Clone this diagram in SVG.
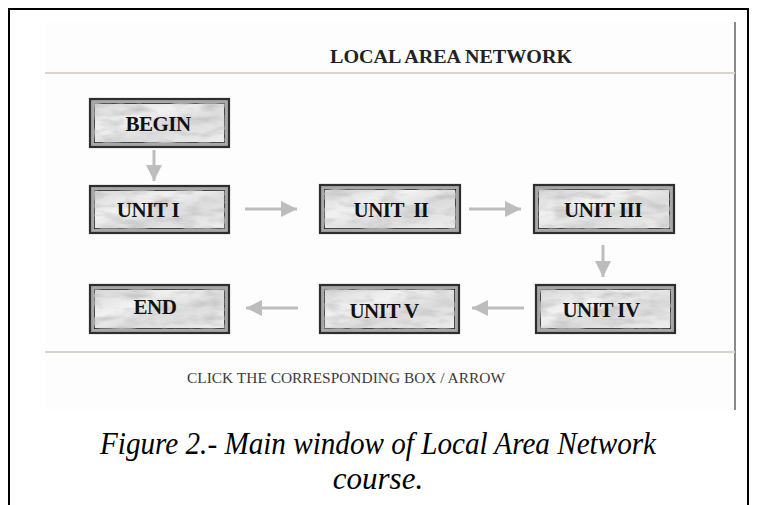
<svg xmlns="http://www.w3.org/2000/svg" width="757" height="505" viewBox="0 0 757 505">
  <defs>
    <style>
      .frame { fill: none; stroke: #000; stroke-width: 2; }
      .rule { stroke: #d9d5c8; stroke-width: 2; }
      .edge { stroke: #bdbdbd; stroke-width: 3; fill: none; }
      .box-outer { fill: #a8a8a8; stroke: #2e2e2e; stroke-width: 2.2; }
      .box-inner { fill: url(#marble); stroke: #1e1e1e; stroke-width: 1.6; }
      .label { font-family: "Liberation Serif", "Times New Roman", serif; font-weight: bold; font-size: 21px; fill: #111; text-anchor: middle; letter-spacing: -0.5px; }
      .title { font-family: "Liberation Serif", "Times New Roman", serif; font-weight: bold; font-size: 19px; fill: #222; text-anchor: middle; }
      .hint { font-family: "Liberation Serif", "Times New Roman", serif; font-size: 14px; fill: #3a3a3a; text-anchor: middle; }
      .caption { font-family: "Liberation Serif", "Times New Roman", serif; font-style: italic; font-size: 31px; fill: #000; text-anchor: middle; }
    </style>
    <linearGradient id="marble" x1="0" y1="0" x2="1" y2="1">
      <stop offset="0" stop-color="#d6d6d6"/>
      <stop offset="0.35" stop-color="#f2f2f2"/>
      <stop offset="0.6" stop-color="#dcdcdc"/>
      <stop offset="1" stop-color="#efefef"/>
    </linearGradient>
    <filter id="veins" x="0" y="0" width="1" height="1">
      <feTurbulence type="fractalNoise" baseFrequency="0.04 0.12" numOctaves="3" seed="4" result="noise"/>
      <feColorMatrix in="noise" type="matrix" values="0 0 0 0 0.55  0 0 0 0 0.55  0 0 0 0 0.55  0 0 0 -2.2 1.25" result="gray"/>
      <feComposite in="gray" in2="SourceGraphic" operator="in" result="tex"/>
      <feMerge><feMergeNode in="SourceGraphic"/><feMergeNode in="tex"/></feMerge>
    </filter>
    <marker id="head" viewBox="0 0 10 10" refX="10" refY="5" markerWidth="5.4" markerHeight="5.4" orient="auto" markerUnits="strokeWidth">
      <path d="M0,0 L10,5 L0,10 z" fill="#bdbdbd"/>
    </marker>
  </defs>

  <!-- page background and outer frame -->
  <rect x="0" y="0" width="757" height="505" fill="#fff"/>
  <path class="frame" d="M9,505 V9 H748 V505"/>

  <!-- application window area -->
  <rect x="45" y="22" width="690" height="388" fill="#fdfdfd"/>
  <line x1="735" y1="22" x2="735" y2="410" stroke="#8a8a8a" stroke-width="2"/>
  <text class="title" x="451" y="63" textLength="242" lengthAdjust="spacingAndGlyphs">LOCAL AREA NETWORK</text>
  <line class="rule" x1="45" y1="73" x2="735" y2="73"/>
  <line class="rule" x1="45" y1="352" x2="735" y2="352"/>
  <text class="hint" x="346" y="383" textLength="318" lengthAdjust="spacingAndGlyphs">CLICK THE CORRESPONDING BOX / ARROW</text>

  <!-- connectors -->
  <g id="connectors">
    <line class="edge" x1="154" y1="150" x2="154" y2="181" marker-end="url(#head)"/>
    <line class="edge" x1="245" y1="209" x2="297" y2="209" marker-end="url(#head)"/>
    <line class="edge" x1="469" y1="209" x2="521" y2="209" marker-end="url(#head)"/>
    <line class="edge" x1="603" y1="245" x2="603" y2="277" marker-end="url(#head)"/>
    <line class="edge" x1="524" y1="308" x2="472" y2="308" marker-end="url(#head)"/>
    <line class="edge" x1="298" y1="308" x2="246" y2="308" marker-end="url(#head)"/>
  </g>

  <!-- nodes -->
  <g id="begin">
    <rect class="box-outer" x="90" y="99" width="139" height="48"/>
    <rect class="box-inner" x="94" y="103" width="131" height="40" filter="url(#veins)"/>
    <text class="label" x="158" y="131">BEGIN</text>
  </g>
  <g id="unit1">
    <rect class="box-outer" x="90" y="186" width="139" height="47"/>
    <rect class="box-inner" x="94" y="190" width="131" height="39" filter="url(#veins)"/>
    <text class="label" x="148" y="217">UNIT I</text>
  </g>
  <g id="unit2">
    <rect class="box-outer" x="320" y="185" width="140" height="48"/>
    <rect class="box-inner" x="324" y="189" width="132" height="40" filter="url(#veins)"/>
    <text class="label" x="391" y="217" xml:space="preserve">UNIT  II</text>
  </g>
  <g id="unit3">
    <rect class="box-outer" x="534" y="185" width="140" height="48"/>
    <rect class="box-inner" x="538" y="189" width="132" height="40" filter="url(#veins)"/>
    <text class="label" x="603" y="217">UNIT III</text>
  </g>
  <g id="unit4">
    <rect class="box-outer" x="536" y="285" width="139" height="48"/>
    <rect class="box-inner" x="540" y="289" width="131" height="40" filter="url(#veins)"/>
    <text class="label" x="601" y="317">UNIT IV</text>
  </g>
  <g id="unit5">
    <rect class="box-outer" x="320" y="285" width="139" height="48"/>
    <rect class="box-inner" x="324" y="289" width="131" height="40" filter="url(#veins)"/>
    <text class="label" x="384" y="318">UNIT V</text>
  </g>
  <g id="end">
    <rect class="box-outer" x="90" y="285" width="139" height="48"/>
    <rect class="box-inner" x="94" y="289" width="131" height="40" filter="url(#veins)"/>
    <text class="label" x="155" y="314">END</text>
  </g>

  <!-- figure caption -->
  <text class="caption" x="378" y="454" textLength="556" lengthAdjust="spacingAndGlyphs">Figure 2.- Main window of Local Area Network</text>
  <text class="caption" x="378" y="489">course.</text>
</svg>
